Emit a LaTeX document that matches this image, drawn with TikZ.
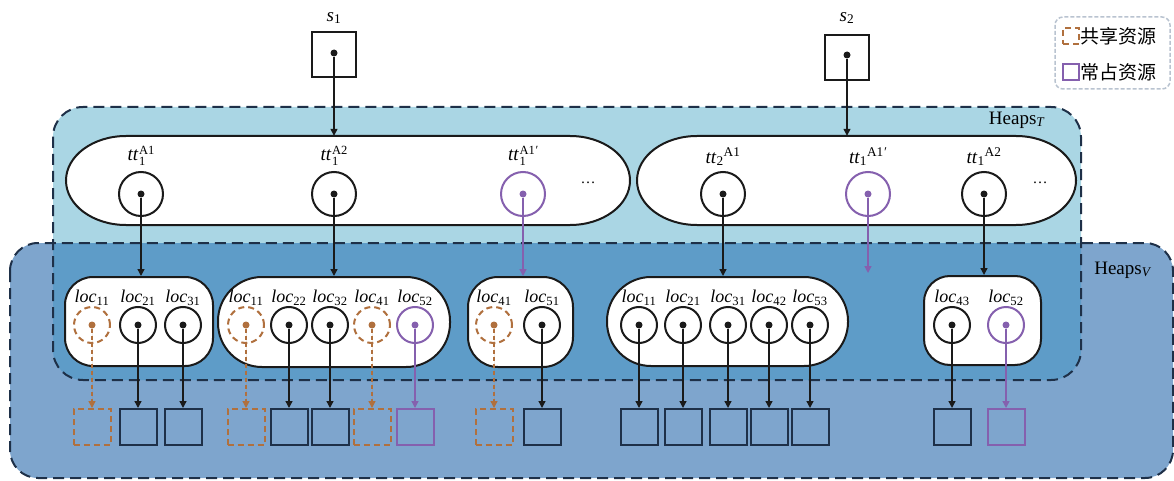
\documentclass[tikz,border=0pt]{standalone}
\usepackage{fontspec}
\setmainfont{Liberation Serif}
\newfontfamily\cjk{Noto Sans CJK SC}
\usetikzlibrary{arrows.meta,calc}
\definecolor{tfill}{HTML}{AAD6E4}
\definecolor{vfill}{HTML}{7EA5CD}
\definecolor{ofill}{HTML}{5E9CC8}
\definecolor{navy}{HTML}{1E3048}
\definecolor{brn}{HTML}{B0703E}
\definecolor{prp}{HTML}{8560AE}
\definecolor{lgd}{HTML}{B9C3D0}
\definecolor{ink}{HTML}{1A1A1A}
\newcommand\ttstack[2]{\textit{tt}\kern0.5pt\raisebox{-4.5pt}{\fontsize{12.5}{9.5}\selectfont\begin{tabular}[b]{@{}l@{}}#2\\#1\end{tabular}}}
\tikzset{
  heap/.style={draw=navy, line width=2pt, dash pattern=on 11pt off 6pt},
  cont/.style={draw=ink, line width=2pt, fill=white},
  locbox/.style={rectangle, draw=ink, line width=2pt, fill=white, inner sep=0pt},
  ttc/.style={circle, draw=ink, line width=2pt, minimum size=44pt, inner sep=0pt},
  locc/.style={circle, draw=ink, line width=2pt, minimum size=36pt, inner sep=0pt},
  dot/.style={circle, fill=ink, inner sep=0pt, minimum size=7pt},
  res/.style={rectangle, draw=navy, line width=2pt, minimum width=37pt, minimum height=36pt, inner sep=0pt},
  shdash/.style={dash pattern=on 6pt off 4pt},
  lbl/.style={font=\fontsize{19}{21}\selectfont, inner sep=0pt},
  loclbl/.style={font=\fontsize{18}{20}\selectfont, inner sep=0pt},
  conn/.style={draw=ink, line width=1.4pt, -{Triangle[length=7pt,width=7pt]}},
}
\begin{document}
\begin{tikzpicture}[x=1pt,y=-1pt]
\useasboundingbox (0,0) rectangle (1174,481);
% heaps regions
\fill[tfill, rounded corners=30pt] (53,107) rectangle (1081,380);
\fill[vfill, rounded corners=28pt] (10,243) rectangle (1173,478);
\begin{scope}
  \clip[rounded corners=30pt] (53,107) rectangle (1081,380);
  \fill[ofill] (10,243) rectangle (1173,478);
\end{scope}
\draw[heap, rounded corners=30pt] (53,107) rectangle (1081,380);
\draw[heap, rounded corners=28pt] (10,243) rectangle (1173,478);
\node[lbl] (hT) at (1017,120) {Heaps\textsubscript{\textit{T}}};
\node[lbl] (hV) at (1123,270) {Heaps\textsubscript{\textit{V}}};

% legend
\draw[lgd, line width=1.5pt, dash pattern=on 4pt off 2pt, rounded corners=8pt, fill=white] (1055,17) rectangle (1170,89);
\node[rectangle, draw=brn, line width=1.5pt, shdash, minimum size=16pt, inner sep=0pt] (lg1) at (1071,36) {};
\node[anchor=west, inner sep=0pt, font=\cjk\fontsize{19}{21}\selectfont] (lt1) at ([xshift=1pt]lg1.east) {共享资源};
\node[rectangle, draw=prp, line width=1.5pt, minimum size=16pt, inner sep=0pt] (lg2) at (1071,72) {};
\node[anchor=west, inner sep=0pt, font=\cjk\fontsize{19}{21}\selectfont] (lt2) at ([xshift=1pt]lg2.east) {常占资源};

% sources
\node[rectangle, draw=ink, line width=2pt, minimum width=44pt, minimum height=45pt] (s1) at (334,55) {};
\node[dot] (s1d) at (334,53) {};
\node[lbl] (s1l) at (334,18) {\textit{s}\textsubscript{1}};
\node[rectangle, draw=ink, line width=2pt, minimum width=44pt, minimum height=45pt] (s2) at (847,58) {};
\node[dot] (s2d) at (847,55) {};
\node[lbl] (s2l) at (847,18) {\textit{s}\textsubscript{2}};

% task containers
\node[minimum width=564pt, minimum height=89pt, inner sep=0pt] (E1) at (348,180.5) {};
\node[minimum width=439pt, minimum height=89pt, inner sep=0pt] (E2) at (856.5,180.5) {};
\draw[cont] (126,136) -- (570,136) arc[start angle=90, end angle=-90, x radius=60pt, y radius=44.5pt]
  -- (126,225) arc[start angle=270, end angle=90, x radius=60pt, y radius=44.5pt] -- cycle;
\draw[cont] (697,136) -- (1016,136) arc[start angle=90, end angle=-90, x radius=60pt, y radius=44.5pt]
  -- (697,225) arc[start angle=270, end angle=90, x radius=60pt, y radius=44.5pt] -- cycle;
\draw[conn] (s1d) -- (s1d |- E1.north);
\draw[conn] (s2d) -- (s2d |- E2.north);

% tt circles
\node[ttc] (t1) at (141,194) {};  \node[dot] (t1d) at (141,194) {};
\node[ttc] (t2) at (334,194) {};  \node[dot] (t2d) at (334,194) {};
\node[ttc, draw=prp] (t3) at (523,194) {};  \node[dot, fill=prp] (t3d) at (523,194) {};
\node[ttc] (t4) at (723,194) {};  \node[dot] (t4d) at (723,194) {};
\node[ttc, draw=prp] (t5) at (868,194) {};  \node[dot, fill=prp] (t5d) at (868,194) {};
\node[ttc] (t6) at (984,194) {};  \node[dot] (t6d) at (984,194) {};
\node[lbl] (t1l) at (141,157) {\ttstack{1}{A1}};
\node[lbl] (t2l) at (334,157) {\ttstack{1}{A2}};
\node[lbl] (t3l) at (523,157) {\ttstack{1}{A1\textit{′}}};
\node[lbl] (t4l) at (723,157) {\textit{tt}\textsubscript{2}\textsuperscript{A1}};
\node[lbl] (t5l) at (868,157) {\textit{tt}\textsubscript{1}\textsuperscript{A1\textit{′}}};
\node[lbl] (t6l) at (984,157) {\textit{tt}\textsubscript{1}\textsuperscript{A2}};
\node[font=\fontsize{15}{17}\selectfont, inner sep=0pt] (el1) at (588,183) {…};
\node[font=\fontsize{15}{17}\selectfont, inner sep=0pt] (el2) at (1040,183) {…};

% location containers
\node[locbox, rounded corners=28pt, minimum width=148pt, minimum height=89pt] (B1) at (139,321.5) {};
\node[locbox, rounded corners=44pt, minimum width=232pt, minimum height=90pt] (B2) at (334,322) {};
\node[locbox, rounded corners=30pt, minimum width=105pt, minimum height=90pt] (B3) at (520.5,322) {};
\node[locbox, rounded corners=44pt, minimum width=241pt, minimum height=89pt] (B4) at (727.5,321.5) {};
\node[locbox, rounded corners=26pt, minimum width=117pt, minimum height=89pt] (B5) at (982.5,320.5) {};

\draw[conn] (t1d) -- (t1d |- B1.north);
\draw[conn] (t2d) -- (t2d |- B2.north);
\draw[conn, draw=prp, fill=prp] (t3d) -- (t3d |- B3.north);
\draw[conn] (t4d) -- (t4d |- B4.north);
\coordinate (free) at (868,273);
\draw[conn, draw=prp, fill=prp] (t5d) -- (free);
\draw[conn] (t6d) -- (t6d |- B5.north);

% locations: ordinary
\foreach \nm/\x/\lab in {a2/138/21, a3/183/31, b2/289/22, b3/330/32, c2/542/51,
  d1/639/11, d2/683/21, d3/728/31, d4/769/42, d5/810/53, e1/952/43}{
  \node[locc] (L\nm) at (\x,325) {};
  \node[dot] (D\nm) at (\x,325) {};
  \node[loclbl] (T\nm) at (\x,298) {\textit{loc}\textsubscript{\lab}};
  \node[res] (R\nm) at (\x,427) {};
  \draw[conn] (D\nm) -- (R\nm);
}
% locations: shared
\foreach \nm/\x/\lab in {a1/92/11, b1/246/11, b4/372/41, c1/494/41}{
  \node[locc, draw=brn, shdash] (L\nm) at (\x,325) {};
  \node[dot, fill=brn] (D\nm) at (\x,325) {};
  \node[loclbl] (T\nm) at (\x,298) {\textit{loc}\textsubscript{\lab}};
  \node[res, draw=brn, shdash] (R\nm) at (\x,427) {};
  \draw[conn, draw=brn, fill=brn, dash pattern=on 4pt off 3pt] (D\nm) -- (R\nm);
}
% locations: occupied
\foreach \nm/\x/\lab in {b5/415/52, e2/1006/52}{
  \node[locc, draw=prp] (L\nm) at (\x,325) {};
  \node[dot, fill=prp] (D\nm) at (\x,325) {};
  \node[loclbl] (T\nm) at (\x,298) {\textit{loc}\textsubscript{\lab}};
  \node[res, draw=prp] (R\nm) at (\x,427) {};
  \draw[conn, draw=prp, fill=prp] (D\nm) -- (R\nm);
}
\end{tikzpicture}
\end{document}
